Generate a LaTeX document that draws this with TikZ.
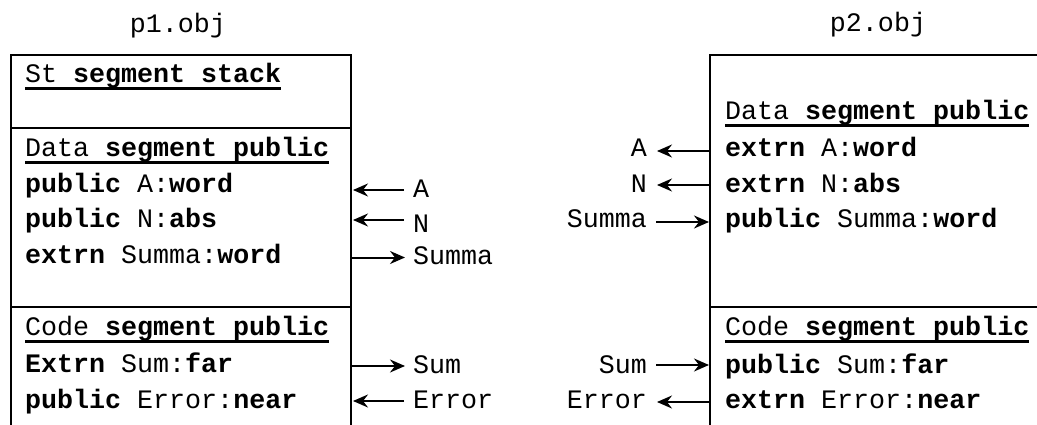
\documentclass[tikz,border=0pt]{standalone}
\usepackage{fontspec}
\setmainfont{Liberation Mono}
\usetikzlibrary{arrows.meta}
\newcommand{\cfont}{\fontsize{26.67pt}{32pt}\selectfont}
\begin{document}
\begin{tikzpicture}[x=1pt,y=-1pt,
  box/.style={line width=2.2pt},
  row/.style={anchor=base west, inner sep=0pt, font=\cfont},
  lablft/.style={anchor=base west, inner sep=0pt, font=\cfont},
  labrgt/.style={anchor=base east, inner sep=0pt, font=\cfont},
  uline/.style={line width=3pt},
  arr/.style={line width=2pt, -{Stealth[length=15pt,width=13pt,inset=5pt]}},
  ttl/.style={anchor=base, inner sep=0pt, font=\cfont}]
\useasboundingbox (0,0) rectangle (1037,425);

% titles
\node[ttl] (t1) at (178,33) {p1.obj};
\node[ttl] (t2) at (878,32) {p2.obj};

% left box
\draw[box] (11,427) -- (11,55) -- (351,55) -- (351,427);
\draw[box] (11,128) -- (351,128);
\draw[box] (11,307) -- (351,307);

% right box
\draw[box] (710,427) -- (710,55) -- (1045,55);
\draw[box] (710,307) -- (1045,307);

% left box text
\node[row] (lst) at (25,83) {St \textbf{segment stack}};
\node[row] (ldata) at (25,157) {Data \textbf{segment public}};
\node[row] (lA) at (25,193) {\textbf{public} A:\textbf{word}};
\node[row] (lN) at (25,228) {\textbf{public} N:\textbf{abs}};
\node[row] (lS) at (25,263) {\textbf{extrn} Summa:\textbf{word}};
\node[row] (lcode) at (25,335) {Code \textbf{segment public}};
\node[row] (lsum) at (25,372) {\textbf{Extrn} Sum:\textbf{far}};
\node[row] (lerr) at (25,408) {\textbf{public} Error:\textbf{near}};
\foreach \n in {lst,ldata,lcode}
  \draw[uline] ([yshift=-6pt]\n.base west) -- ([yshift=-6pt]\n.base east);

% right box text
\node[row] (rdata) at (725,120) {Data \textbf{segment public}};
\node[row] (rA) at (725,157) {\textbf{extrn} A:\textbf{word}};
\node[row] (rN) at (725,193) {\textbf{extrn} N:\textbf{abs}};
\node[row] (rS) at (725,228) {\textbf{public} Summa:\textbf{word}};
\node[row] (rcode) at (725,335) {Code \textbf{segment public}};
\node[row] (rsum) at (725,373) {\textbf{public} Sum:\textbf{far}};
\node[row] (rerr) at (725,408) {\textbf{extrn} Error:\textbf{near}};
\foreach \n in {rdata,rcode}
  \draw[uline] ([yshift=-6pt]\n.base west) -- ([yshift=-6pt]\n.base east);

% left labels
\node[lablft] (xA1) at (413,197) {A};
\node[lablft] (xN1) at (413,233) {N};
\node[lablft] (xS1) at (413,265) {Summa};
\node[lablft] (xsum1) at (413,373) {Sum};
\node[lablft] (xerr1) at (413,408) {Error};

% left arrow end points
\coordinate (eA1) at (353,190);   \coordinate (tA1) at (404,190);
\coordinate (eN1) at (353,220);   \coordinate (tN1) at (404,220);
\coordinate (eS1) at (352,257.5); \coordinate (tS1) at (405,257.5);
\coordinate (esum1) at (352,366); \coordinate (tsum1) at (405,366);
\coordinate (eerr1) at (353,401); \coordinate (terr1) at (404,401);
\draw[arr] (tA1) -- (eA1);
\draw[arr] (tN1) -- (eN1);
\draw[arr] (eS1) -- (tS1);
\draw[arr] (esum1) -- (tsum1);
\draw[arr] (terr1) -- (eerr1);

% right labels
\node[labrgt] (xA2) at (647,157) {A};
\node[labrgt] (xN2) at (647,193) {N};
\node[labrgt] (xS2) at (647,228) {Summa};
\node[labrgt] (xsum2) at (647,373) {Sum};
\node[labrgt] (xerr2) at (647,408) {Error};

% right arrow end points
\coordinate (eA2) at (709,151);   \coordinate (tA2) at (657,151);
\coordinate (eN2) at (709,185);   \coordinate (tN2) at (657,185);
\coordinate (eS2) at (709,222);   \coordinate (tS2) at (656,222);
\coordinate (esum2) at (709,365); \coordinate (tsum2) at (656,365);
\coordinate (eerr2) at (709,402); \coordinate (terr2) at (657,402);
\draw[arr] (eA2) -- (tA2);
\draw[arr] (eN2) -- (tN2);
\draw[arr] (tS2) -- (eS2);
\draw[arr] (tsum2) -- (esum2);
\draw[arr] (eerr2) -- (terr2);
\end{tikzpicture}
\end{document}
